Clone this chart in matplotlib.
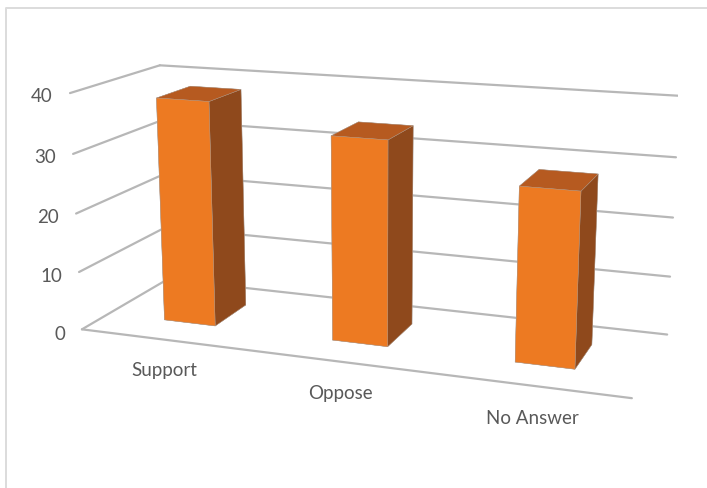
import matplotlib
matplotlib.use("Agg")
import numpy as np
import matplotlib.pyplot as plt
from matplotlib.lines import Line2D

categories = ["Support", "Oppose", "No Answer"]
values = [38.3, 34.1, 28.4]
ticks = [0, 10, 20, 30, 40]

plt.rcParams['font.family'] = ['Lato', 'DejaVu Sans']

W, H = 707, 488
fig = plt.figure(figsize=(W/100, H/100), dpi=100)
# only the top and left of the chart frame are in the crop
fig.add_artist(Line2D([6/W, 6/W, 1], [0, 1-7.5/H, 1-7.5/H], color='#dcdcdc', lw=1.4, zorder=-1))

# camera fitted to the reference's floor and wall corners
size = 626.6
ax = fig.add_axes([51.1/W, -49.3/H, size/W, size/H], projection='3d', computed_zorder=False)
ax.set_proj_type('persp', focal_length=0.453)
ax.view_init(elev=14.43, azim=-69.9, roll=0.04)
ax.set_box_aspect((3, 0.998, 1.298))
ax.set_axis_off()
ax.patch.set_alpha(0)
ax.set_xlim(0, 3)
ax.set_ylim(0, 1)
ax.set_zlim(0, 40)

grid = dict(color='#b7b7b7', lw=1.6, zorder=1, solid_capstyle='round')
for t in ticks:
    ax.plot([0, 0], [0, 1], [t, t], **grid)
    ax.plot([0, 3], [1, 1], [t, t], **grid)
ax.plot([0, 3], [0, 0], [0, 0], **grid)

# bar3d faces: bottom, top, front, back, left, right
face_colors = ['#ed7a22', '#b65a20', '#ed7a22', '#ed7a22', '#ed7a22', '#8f491c']
for i, v in enumerate(values):
    ax.bar3d(i + 0.345, 0.3, 0, 0.31, 0.4, v, color=face_colors, shade=False, zorder=3 + i,
             edgecolor='#a89c94', linewidth=0.3)
    ax.text(i + 0.535, -0.08, -4.3, categories[i], fontsize=13.5, color='#595959', ha='center', va='center')

for t in ticks:
    ax.text(0, -0.17, t*0.988 + 0.8, str(t), fontsize=13.5, color='#595959', ha='right', va='center')

fig.savefig("out.png", dpi=100)
